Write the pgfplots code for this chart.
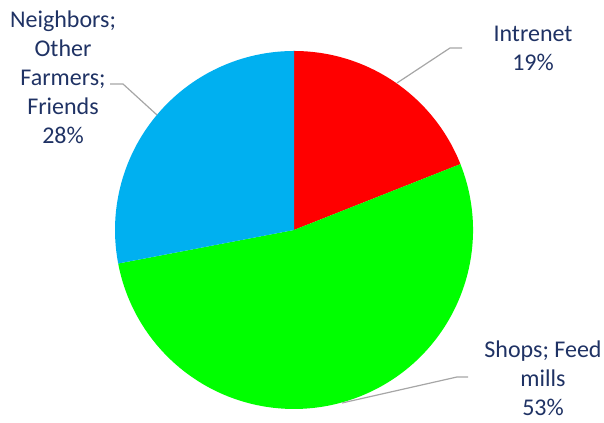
\documentclass[border=0pt]{standalone}
\usepackage{pgfplots}
\pgfplotsset{compat=1.18}
\usepackage{fontspec}
\setmainfont{Carlito}
\definecolor{lbl}{RGB}{31,50,100}
\definecolor{pred}{RGB}{255,0,0}
\definecolor{pgreen}{RGB}{0,255,0}
\definecolor{pblue}{RGB}{0,176,240}
\definecolor{lead}{RGB}{166,166,166}
% shares (percent)
\def\vA{19}% Intrenet
\def\vB{53}% Shops; Feed mills
\def\vC{28}% Neighbors; Other Farmers; Friends
\pgfmathsetmacro\aA{90}
\pgfmathsetmacro\aB{\aA-3.6*\vA}
\pgfmathsetmacro\aC{\aB-3.6*\vB}
\pgfmathsetmacro\aD{\aC-3.6*\vC}
\def\R{134.25pt}
\begin{document}
\begin{tikzpicture}
\begin{axis}[scale only axis, width=453pt, height=317.25pt,
  xmin=0, xmax=604, ymin=0, ymax=423, hide axis, clip=false]
\coordinate (sw) at (axis cs:0,0);
\coordinate (ne) at (axis cs:604,423);
\fill[pred] (axis cs:294,193) -- ++(\aA:\R) arc[start angle=\aA, end angle=\aB, radius=\R] -- cycle;
\fill[pgreen] (axis cs:294,193) -- ++(\aB:\R) arc[start angle=\aB, end angle=\aC, radius=\R] -- cycle;
\fill[pblue] (axis cs:294,193) -- ++(\aC:\R) arc[start angle=\aC, end angle=\aD, radius=\R] -- cycle;
\draw[lead, line width=0.9pt] (axis cs:397,340) -- (axis cs:450,375) -- (axis cs:462,375);
\draw[lead, line width=0.9pt] (axis cs:157,308) -- (axis cs:123,339) -- (axis cs:110,339);
\draw[lead, line width=0.9pt] (axis cs:342,20) -- (axis cs:457,46) -- (axis cs:468,46);
\node[align=center, inner sep=0pt, text=lbl, font=\fontsize{18}{21.75}\selectfont] at (axis cs:533,375) {Intrenet\\19\%};
\node[align=center, inner sep=0pt, text=lbl, font=\fontsize{18}{21.75}\selectfont] at (axis cs:63,345.5) {Neighbors;\\Other\\Farmers;\\Friends\\28\%};
\node[align=center, inner sep=0pt, text=lbl, font=\fontsize{18}{21.75}\selectfont] at (axis cs:543,45) {Shops; Feed\\mills\\53\%};
\end{axis}
\pgfresetboundingbox
\path (sw) rectangle (ne);
\end{tikzpicture}
\end{document}
